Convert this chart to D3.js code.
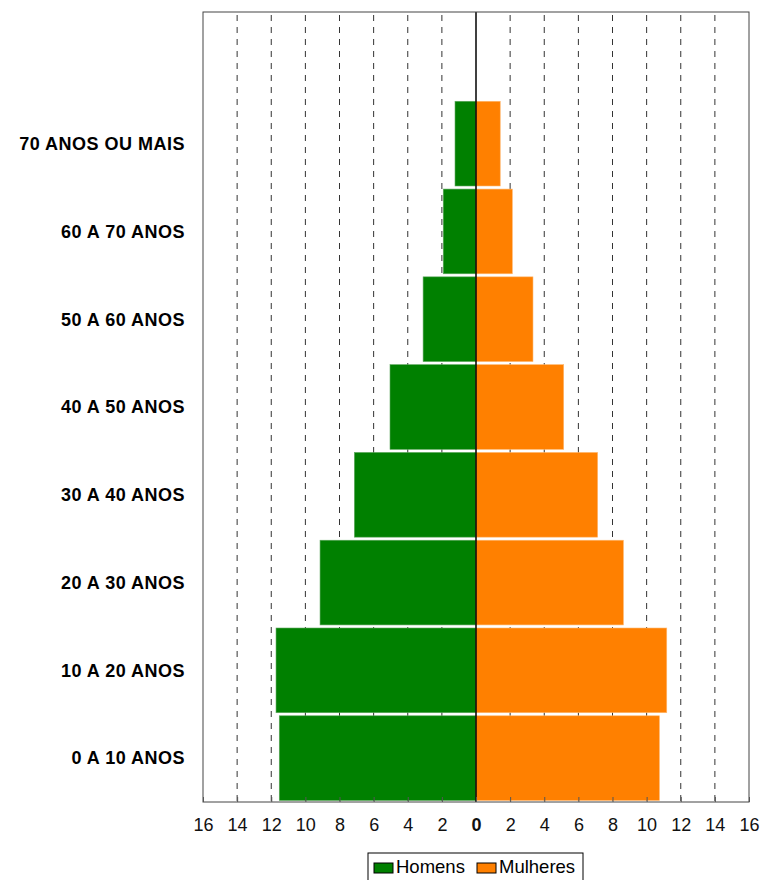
<!DOCTYPE html>
<html>
  <head>
    <meta charset="utf-8">
    <title>Pirâmide etária</title>
    <script src="https://d3js.org/d3.v7.min.js"></script>
    <style>
      body { margin: 0; background: #fff; font-family: "Liberation Sans", Arial, sans-serif; }
    </style>
  </head>
  <body>
    <svg id="chart" width="761" height="880"></svg>
    <script>
      // data
      var categories = ["0 A 10 ANOS", "10 A 20 ANOS", "20 A 30 ANOS", "30 A 40 ANOS",
                        "40 A 50 ANOS", "50 A 60 ANOS", "60 A 70 ANOS", "70 ANOS OU MAIS"];
      var homens = [11.53, 11.72, 9.14, 7.13, 5.04, 3.1, 1.92, 1.23];
      var mulheres = [10.75, 11.18, 8.64, 7.13, 5.14, 3.34, 2.13, 1.42];
      var ticks = [-16, -14, -12, -10, -8, -6, -4, -2, 0, 2, 4, 6, 8, 10, 12, 14, 16];
      var seriesNames = ["Homens", "Mulheres"];
      var colours = ["#008000", "#ff8000"];

      var svg = d3.select("#chart");
      var pLeft = 203, pRight = 749, pTop = 12, pBottom = 802;

      var x = d3.scaleLinear().domain([-16, 16]).range([pLeft, pRight]);
      // one empty band on top
      var y = d3.scaleBand()
        .domain(categories.concat([""]))
        .range([pBottom, pTop])
        .paddingInner(0.035)
        .paddingOuter(0.017);

      // grid
      svg.append("g").selectAll("line")
        .data(ticks.filter(function(d) { return d !== 0 && Math.abs(d) !== 16; }))
        .enter().append("line")
          .attr("x1", function(d) { return x(d); })
          .attr("x2", function(d) { return x(d); })
          .attr("y1", pTop)
          .attr("y2", pBottom)
          .attr("stroke", "#333")
          .attr("stroke-width", 1)
          .attr("stroke-dasharray", "6,6")
          .attr("stroke-dashoffset", -3);

      // bars
      svg.append("g").selectAll("rect")
        .data(homens)
        .enter().append("rect")
          .attr("x", function(d) { return x(-d); })
          .attr("y", function(d, i) { return y(categories[i]); })
          .attr("width", function(d) { return x(0) - x(-d); })
          .attr("height", y.bandwidth())
          .attr("fill", colours[0])
          .attr("stroke", "#5fa85f")
          .attr("stroke-width", 0.6);
      svg.append("g").selectAll("rect")
        .data(mulheres)
        .enter().append("rect")
          .attr("x", x(0))
          .attr("y", function(d, i) { return y(categories[i]); })
          .attr("width", function(d) { return x(d) - x(0); })
          .attr("height", y.bandwidth())
          .attr("fill", colours[1])
          .attr("stroke", "#ffb870")
          .attr("stroke-width", 0.6);

      // zero line
      svg.append("line")
        .attr("x1", x(0)).attr("x2", x(0))
        .attr("y1", pTop).attr("y2", pBottom)
        .attr("stroke", "#000")
        .attr("stroke-width", 1.5);

      // frame
      svg.append("rect")
        .attr("x", pLeft).attr("y", pTop)
        .attr("width", pRight - pLeft).attr("height", pBottom - pTop)
        .attr("fill", "none")
        .attr("stroke", "#444")
        .attr("stroke-width", 1);

      // x axis with inward ticks
      var axis = d3.axisBottom(x)
        .tickValues(ticks)
        .tickSize(-5)
        .tickPadding(16)
        .tickFormat(function(d) { return Math.abs(d); });
      var ax = svg.append("g")
        .attr("transform", "translate(0," + pBottom + ")")
        .call(axis);
      ax.select(".domain").remove();
      ax.selectAll(".tick line").attr("stroke", "#555");
      ax.selectAll(".tick text")
        .attr("font-family", "'Liberation Sans', Arial, sans-serif")
        .attr("font-size", 18)
        .attr("fill", "#111")
        .attr("font-weight", function(d) { return d === 0 ? "bold" : "normal"; });

      // category labels
      svg.append("g").selectAll("text")
        .data(categories)
        .enter().append("text")
          .attr("x", 185)
          .attr("y", function(d) { return y(d) + y.bandwidth() / 2; })
          .attr("dy", "0.35em")
          .attr("text-anchor", "end")
          .attr("font-family", "'Liberation Sans', Arial, sans-serif")
          .attr("font-size", 18)
          .attr("letter-spacing", 0.5)
          .attr("font-weight", "bold")
          .attr("fill", "#000")
          .text(function(d) { return d; });

      // legend
      var legend = svg.append("g").attr("transform", "translate(368,853)");
      legend.append("rect")
        .attr("x", 0).attr("y", 0)
        .attr("width", 215).attr("height", 40)
        .attr("fill", "#fff")
        .attr("stroke", "#000")
        .attr("stroke-width", 1);
      var lx = [6, 109];
      seriesNames.forEach(function(name, i) {
        legend.append("rect")
          .attr("x", lx[i]).attr("y", 10)
          .attr("width", 19).attr("height", 10)
          .attr("fill", colours[i])
          .attr("stroke", "#000")
          .attr("stroke-width", 1);
        legend.append("text")
          .attr("x", lx[i] + 22).attr("y", 20)
          .attr("font-family", "'Liberation Sans', Arial, sans-serif")
          .attr("font-size", 18.5)
          .attr("fill", "#000")
          .text(name);
      });
    </script>
  </body>
</html>
